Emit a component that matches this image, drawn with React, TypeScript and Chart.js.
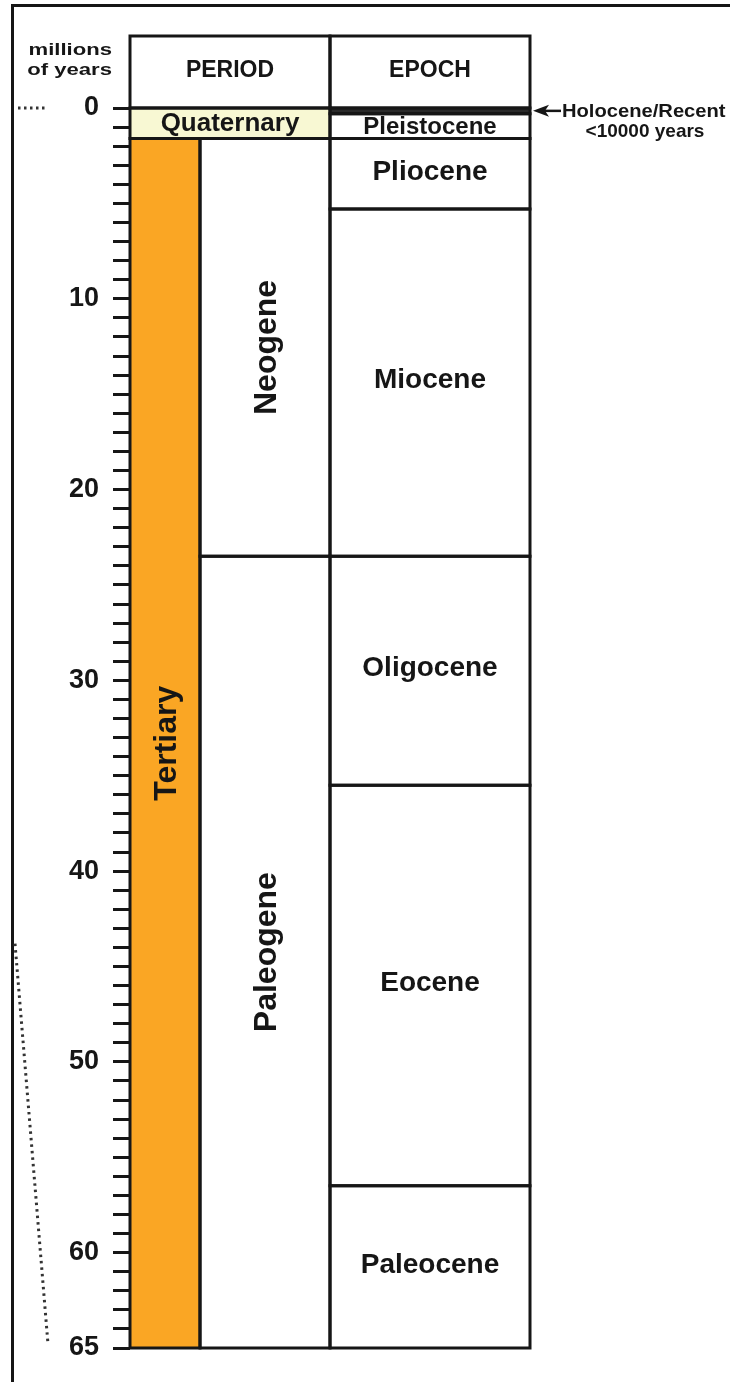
import React, { useEffect, useRef } from "react";
import { Chart, registerables } from "chart.js";

Chart.register(...registerables);

// ---------------- data (ages in millions of years) ----------------
const AGE_MIN = 0;
const AGE_MAX = 65;
const AGE_LABELS = [0, 10, 20, 30, 40, 50, 60, 65];

const PERIODS = ["Quaternary", "Tertiary"];
const PERIOD_START = [0, 1.6];
const PERIOD_END = [1.6, 65];

const SUBPERIODS = ["Neogene", "Paleogene"];
const SUBPERIOD_START = [1.6, 23.5];
const SUBPERIOD_END = [23.5, 65];

const EPOCHS = ["Holocene", "Pleistocene", "Pliocene", "Miocene", "Oligocene", "Eocene", "Paleocene"];
const EPOCH_START = [0, 0.3, 1.6, 5.3, 23.5, 35.5, 56.5];
const EPOCH_END = [0.3, 1.6, 5.3, 23.5, 35.5, 56.5, 65];

const HEADERS = ["PERIOD", "EPOCH"];
const AXIS_TITLE = ["millions", "of years"];
const HOLOCENE_NOTE = ["Holocene/Recent", "<10000 years"];

// leader lines (ages they connect)
const LEADER_TOP_AGES = [0, 0];
const LEADER_SIDE_AGES = [43.8, 64.8];

// ---------------- layout / style ----------------
const FONT = '"Liberation Sans", Arial, Helvetica, sans-serif';
const INK = "#161616";
const X_MAX = 400;
const COLUMN_SPAN: Record<string, [number, number]> = {
  wide: [0, 200],
  narrow: [0, 70],
  sub: [70, 200],
  epoch: [200, 400],
};
const HEADER_SPAN: [number, number][] = [COLUMN_SPAN.wide, COLUMN_SPAN.epoch];
const PERIOD_COLUMN = ["wide", "narrow"];
const PERIOD_FILL = ["#F8F8D3", "#FAA624"];
const SUB_FILL = "#ffffff";
const EPOCH_FILL = (name: string) => (name === "Holocene" ? "#2a2a2a" : "#ffffff");
const HEADER_HEIGHT = 72;
const LEADER_TOP_X = [-112, -85];
const LEADER_SIDE_X = [-115, -82];

type Box = {
  label: string;
  s: number;
  e: number;
  x0: number;
  x1: number;
  fill: string;
  group: "period" | "sub" | "epoch";
};

function buildBoxes(): Box[] {
  const boxes: Box[] = [];
  PERIODS.forEach((p, i) => {
    const [x0, x1] = COLUMN_SPAN[PERIOD_COLUMN[i]];
    boxes.push({ label: p, s: PERIOD_START[i], e: PERIOD_END[i], x0, x1, fill: PERIOD_FILL[i], group: "period" });
  });
  SUBPERIODS.forEach((p, i) => {
    const [x0, x1] = COLUMN_SPAN.sub;
    boxes.push({ label: p, s: SUBPERIOD_START[i], e: SUBPERIOD_END[i], x0, x1, fill: SUB_FILL, group: "sub" });
  });
  EPOCHS.forEach((p, i) => {
    const [x0, x1] = COLUMN_SPAN.epoch;
    boxes.push({ label: p, s: EPOCH_START[i], e: EPOCH_END[i], x0, x1, fill: EPOCH_FILL(p), group: "epoch" });
  });
  return boxes;
}

export default function App() {
  const ref = useRef<HTMLCanvasElement | null>(null);

  useEffect(() => {
    if (!ref.current) return;
    const boxes = buildBoxes();
    const datasets: any[] = [];
    boxes.forEach((b) => {
      datasets.push({
        label: b.label + " fill",
        data: [
          { x: b.x0, y: b.s },
          { x: b.x1, y: b.s },
        ],
        showLine: true,
        fill: { value: b.e },
        backgroundColor: b.fill,
        borderColor: "rgba(0,0,0,0)",
        borderWidth: 0,
        pointRadius: 0,
        order: 3,
      });
      datasets.push({
        label: b.label,
        data: [
          { x: b.x0, y: b.s },
          { x: b.x1, y: b.s },
          { x: b.x1, y: b.e },
          { x: b.x0, y: b.e },
          { x: b.x0, y: b.s },
        ],
        showLine: true,
        fill: false,
        borderColor: INK,
        borderWidth: 3,
        borderCapStyle: "square",
        borderJoinStyle: "miter",
        pointRadius: 0,
        order: 2,
        clip: 4,
      });
    });
    datasets.push({
      label: "leader top",
      data: LEADER_TOP_AGES.map((a, i) => ({ x: LEADER_TOP_X[i], y: a })),
      showLine: true,
      fill: false,
      borderColor: "#333",
      borderWidth: 3,
      borderDash: [2.5, 3.5],
      pointRadius: 0,
      clip: false,
      order: 1,
    });
    datasets.push({
      label: "leader side",
      data: LEADER_SIDE_AGES.map((a, i) => ({ x: LEADER_SIDE_X[i], y: a })),
      showLine: true,
      fill: false,
      borderColor: "#333",
      borderWidth: 3,
      borderDash: [2.5, 4],
      pointRadius: 0,
      clip: false,
      order: 1,
    });

    const decor = {
      id: "decor",
      beforeDraw(chart: any) {
        const ctx = chart.ctx as CanvasRenderingContext2D;
        ctx.save();
        ctx.fillStyle = "#ffffff";
        ctx.fillRect(0, 0, chart.width, chart.height);
        ctx.fillStyle = INK;
        ctx.fillRect(11, 4, chart.width - 11, 3);
        ctx.fillRect(11, 4, 3, chart.height - 4);
        ctx.restore();
      },
      afterDatasetsDraw(chart: any) {
        const ctx = chart.ctx as CanvasRenderingContext2D;
        const { chartArea } = chart;
        const x = chart.scales.x;
        const y = chart.scales.y;
        ctx.save();

        // header row
        const top = chartArea.top - HEADER_HEIGHT;
        ctx.strokeStyle = INK;
        ctx.lineWidth = 3;
        ctx.lineJoin = "miter";
        HEADER_SPAN.forEach(([a, b], i) => {
          const px0 = x.getPixelForValue(a);
          const px1 = x.getPixelForValue(b);
          ctx.strokeRect(px0, top, px1 - px0, chartArea.top - top);
          ctx.fillStyle = INK;
          ctx.font = `bold 23px ${FONT}`;
          ctx.textAlign = "center";
          ctx.textBaseline = "middle";
          ctx.fillText(HEADERS[i], (px0 + px1) / 2, top + HEADER_HEIGHT / 2 - 1);
        });

        // axis title
        ctx.fillStyle = INK;
        ctx.font = `bold 17px ${FONT}`;
        ctx.textAlign = "right";
        ctx.textBaseline = "alphabetic";
        AXIS_TITLE.forEach((t, i) => {
          ctx.save();
          ctx.translate(chartArea.left - 18, 55 + i * 20);
          ctx.scale(1.3, 1);
          ctx.fillText(t, 0, 0);
          ctx.restore();
        });

        // box labels
        boxes.forEach((b) => {
          if (b.label === "Holocene") return;
          const px0 = x.getPixelForValue(b.x0);
          const px1 = x.getPixelForValue(b.x1);
          const py0 = y.getPixelForValue(b.s);
          const py1 = y.getPixelForValue(b.e);
          const cx = (px0 + px1) / 2;
          const cy = (py0 + py1) / 2;
          const w = px1 - px0;
          const h = Math.abs(py1 - py0);
          ctx.fillStyle = INK;
          ctx.textAlign = "center";
          ctx.textBaseline = "middle";
          if (w < 150) {
            ctx.font = `bold 32px ${FONT}`;
            ctx.save();
            ctx.translate(cx + 2, cy);
            ctx.rotate(-Math.PI / 2);
            ctx.fillText(b.label, 0, 0);
            ctx.restore();
          } else {
            let size = 28;
            if (h < 40) size = b.group === "epoch" ? 24 : 26;
            ctx.font = `bold ${size}px ${FONT}`;
            ctx.fillText(b.label, cx, cy + (h < 40 ? 1 : -2));
          }
        });

        // Holocene annotation
        const hy = y.getPixelForValue((EPOCH_START[0] + EPOCH_END[0]) / 2);
        const ax0 = chartArea.right + 3;
        const ax1 = ax0 + 28;
        ctx.strokeStyle = INK;
        ctx.lineWidth = 2.5;
        ctx.beginPath();
        ctx.moveTo(ax0 + 8, hy);
        ctx.lineTo(ax1, hy);
        ctx.stroke();
        ctx.fillStyle = INK;
        ctx.beginPath();
        ctx.moveTo(ax0, hy);
        ctx.lineTo(ax0 + 16, hy - 6);
        ctx.lineTo(ax0 + 12, hy);
        ctx.lineTo(ax0 + 16, hy + 6);
        ctx.closePath();
        ctx.fill();
        ctx.font = `bold 18px ${FONT}`;
        ctx.textAlign = "left";
        ctx.textBaseline = "middle";
        ctx.save();
        ctx.translate(ax1 + 1, hy + 1);
        ctx.scale(1.12, 1);
        ctx.fillText(HOLOCENE_NOTE[0], 0, 0);
        ctx.restore();
        ctx.font = `bold 19px ${FONT}`;
        ctx.textAlign = "center";
        ctx.fillText(HOLOCENE_NOTE[1], ax1 + 84, hy + 21);

        ctx.restore();
      },
    };

    const chart = new Chart(ref.current, {
      type: "scatter",
      data: { datasets },
      options: {
        animation: false,
        responsive: false,
        devicePixelRatio: 1,
        events: [],
        layout: { padding: { left: 12, right: 200, top: 108, bottom: 34 } },
        plugins: {
          legend: { display: false },
          tooltip: { enabled: false },
        },
        scales: {
          x: {
            type: "linear",
            min: 0,
            max: X_MAX,
            display: false,
          },
          y: {
            type: "linear",
            reverse: true,
            min: AGE_MIN,
            max: AGE_MAX,
            afterFit: (scale: any) => {
              scale.width = 118;
            },
            border: { display: false },
            grid: {
              drawOnChartArea: false,
              drawTicks: true,
              tickLength: 17,
              tickWidth: 3,
              tickColor: INK,
            },
            ticks: {
              stepSize: 1,
              maxTicksLimit: 200,
              autoSkip: false,
              padding: 14,
              color: INK,
              font: { family: FONT, size: 27, weight: "bold" },
              callback: (v: any) => (AGE_LABELS.includes(Number(v)) ? String(v) : ""),
            },
          },
        },
      } as any,
      plugins: [decor],
    });
    return () => chart.destroy();
  }, []);

  return (
    <div style={{ position: "absolute", left: 0, top: 0, width: 730, height: 1382 }}>
      <canvas ref={ref} width={730} height={1382} style={{ display: "block" }} />
    </div>
  );
}
